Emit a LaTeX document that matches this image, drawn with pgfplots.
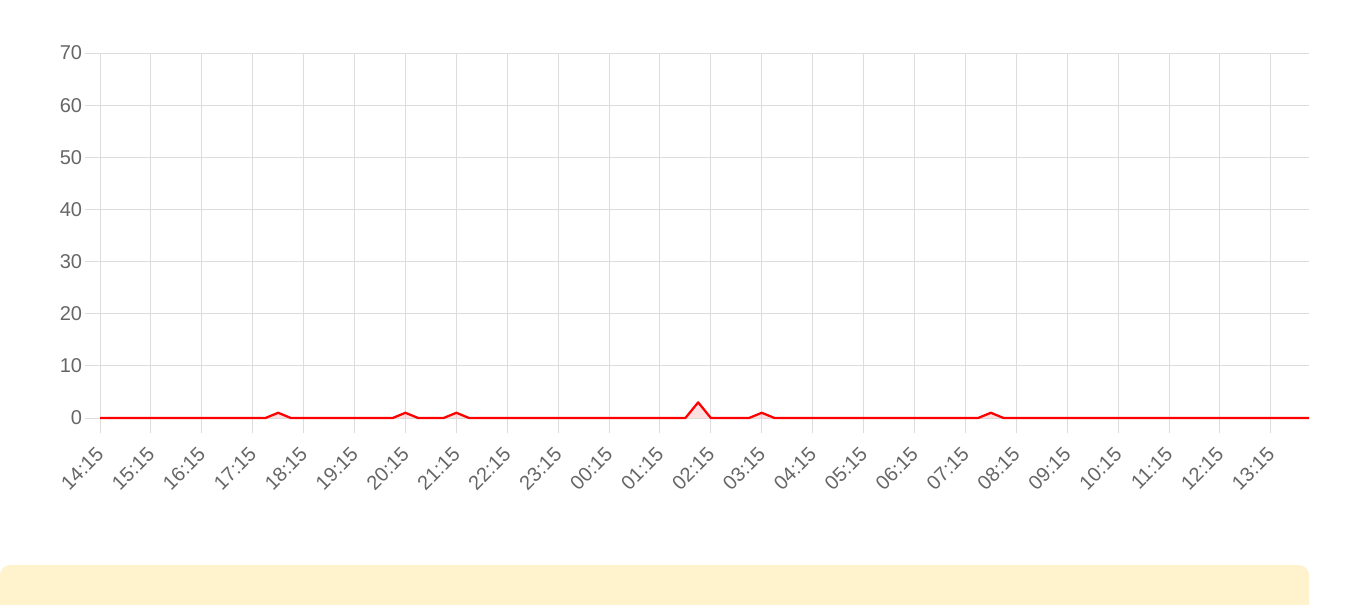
\documentclass[border=0pt]{standalone}
\usepackage{pgfplots}
\pgfplotsset{compat=1.18}
\usepackage{fontspec}
\setmainfont{Liberation Sans}
\definecolor{gridgray}{HTML}{DDDDDD}
\definecolor{labgray}{HTML}{666666}
\definecolor{alertbg}{HTML}{FFF3CD}
\begin{document}
\begin{tikzpicture}
\useasboundingbox (0pt,0pt) rectangle (1020pt,453pt);
\begin{scope}
\clip (0pt,0pt) rectangle (1020pt,453pt);
\fill[alertbg, rounded corners=7.5pt] (0pt,-22pt) rectangle (981.75pt,29.25pt);
\end{scope}
\begin{axis}[
  at={(75pt,139.5pt)}, anchor=south west,
  scale only axis,
  width=906.75pt, height=273.75pt,
  xmin=0, xmax=23.75, ymin=0, ymax=70,
  axis lines=left,
  axis line style={draw=gridgray, line width=0.75pt, -},
  grid=major,
  major grid style={draw=gridgray, line width=0.75pt},
  tick style={draw=gridgray, line width=0.75pt},
  tick align=outside,
  major tick length=11.25pt,
  xtick={0,1,...,23},
  xticklabels={14:15,15:15,16:15,17:15,18:15,19:15,20:15,21:15,22:15,23:15,00:15,01:15,02:15,03:15,04:15,05:15,06:15,07:15,08:15,09:15,10:15,11:15,12:15,13:15},
  ytick={0,10,...,70},
  every tick label/.append style={font=\fontsize{15}{17}\selectfont, text=labgray},
  xticklabel style={xshift=1.5pt, yshift=-12pt, rotate=45, anchor=east, inner sep=2pt},
  yticklabel style={inner sep=2pt},
  /pgf/number format/assume math mode=true,
  clip=false,
]
\addplot[fill=red, fill opacity=0.12, draw=none] coordinates {
(0,0) (3.25,0) (3.5,1) (3.75,0) (5.75,0) (6,1) (6.25,0) (6.75,0) (7,1) (7.25,0)
(11.5,0) (11.75,3) (12,0) (12.75,0) (13,1) (13.25,0) (17.25,0) (17.5,1) (17.75,0) (23.75,0)
} \closedcycle;
\addplot[red, line width=1.7pt, line join=round] coordinates {
(0,0) (3.25,0) (3.5,1) (3.75,0) (5.75,0) (6,1) (6.25,0) (6.75,0) (7,1) (7.25,0)
(11.5,0) (11.75,3) (12,0) (12.75,0) (13,1) (13.25,0) (17.25,0) (17.5,1) (17.75,0) (23.75,0)
};
\end{axis}
\end{tikzpicture}
\end{document}
